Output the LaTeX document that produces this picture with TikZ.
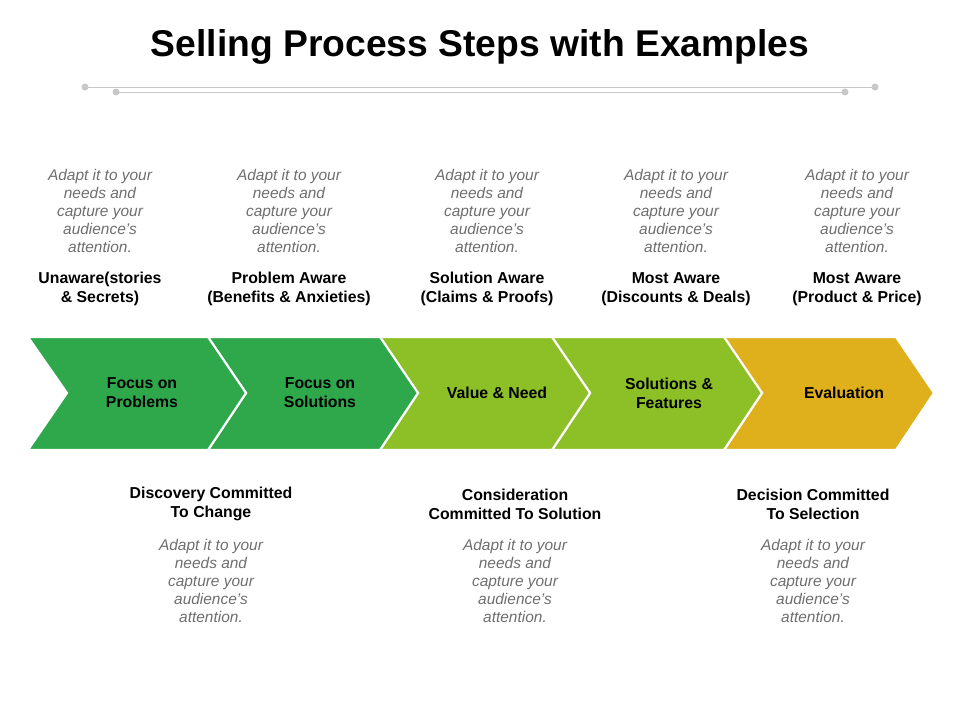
\documentclass[tikz,border=0pt]{standalone}
\usepackage{fontspec}
\setmainfont{Liberation Sans}
\usetikzlibrary{positioning}

\begin{document}
\begin{tikzpicture}[x=0.02cm,y=-0.02cm]
\definecolor{StepGreen}{HTML}{2EA84A};
\definecolor{StepLime}{HTML}{8DBF26};
\definecolor{StepGold}{HTML}{E0B01C};
\definecolor{NoteGray}{HTML}{6E6E6E};
\definecolor{RuleGray}{HTML}{C8C8C8};
\tikzset{
  note/.style={align=center, text=NoteGray, font=\fontsize{8.8}{10.2}\selectfont\itshape},
  head/.style={align=center, font=\fontsize{9}{10.8}\selectfont\bfseries},
  steplabel/.style={align=center, font=\fontsize{9}{10.8}\selectfont\bfseries}
}
\useasboundingbox (0,0) rectangle (960,720);

% title
\node[font=\fontsize{21.2}{24}\selectfont\bfseries] (title) at (480,47) {Selling Process Steps with Examples};
\draw[RuleGray] (85,87) -- (875,87);
\draw[RuleGray] (116,92) -- (845,92);
\foreach \p in {(85,87),(875,87),(116,92),(845,92)}
    \fill[RuleGray] \p circle (3.5);

% chevrons
\foreach \x/\c in {724/StepGold, 552/StepLime, 380/StepLime, 208/StepGreen}
    \fill[\c, draw=white, line width=1.2pt] (\x,337) -- (\x+172,337) -- (\x+210,393) -- (\x+172,450) -- (\x,450) -- (\x+38,393) -- cycle;
\fill[StepGreen, draw=white, line width=1.2pt] (28,337) -- (208,337) -- (246,393) -- (208,450) -- (28,450) -- (67,393) -- cycle;

\node[steplabel] (s1) at (142,393) {Focus on\\Problems};
\node[steplabel] (s2) at (320,393) {Focus on\\Solutions};
\node[steplabel] (s3) at (497,393) {Value \& Need};
\node[steplabel] (s4) at (669,393) {Solutions \&\\Features};
\node[steplabel] (s5) at (844,393) {Evaluation};

% top columns
\foreach \n/\x/\t in {1/100/{Unaware(stories\\\& Secrets)},
                      2/289/{Problem Aware\\(Benefits \& Anxieties)},
                      3/487/{Solution Aware\\(Claims \& Proofs)},
                      4/676/{Most Aware\\(Discounts \& Deals)},
                      5/857/{Most Aware\\(Product \& Price)}}{
    \node[note] (tn\n) at (\x,211) {Adapt it to your\\needs and\\capture your\\audience's\\attention.};
    \node[head] (th\n) at (\x,289) {\t};
}

% bottom columns
\foreach \n/\x/\t in {1/211/{Discovery Committed\\To Change},
                      2/515/{Consideration\\Committed To Solution},
                      3/813/{Decision Committed\\To Selection}}{
    \node[head] (bh\n) at (\x,504) {\t};
    \node[note] (bn\n) at (\x,581) {Adapt it to your\\needs and\\capture your\\audience's\\attention.};
}
\end{tikzpicture}
\end{document}
